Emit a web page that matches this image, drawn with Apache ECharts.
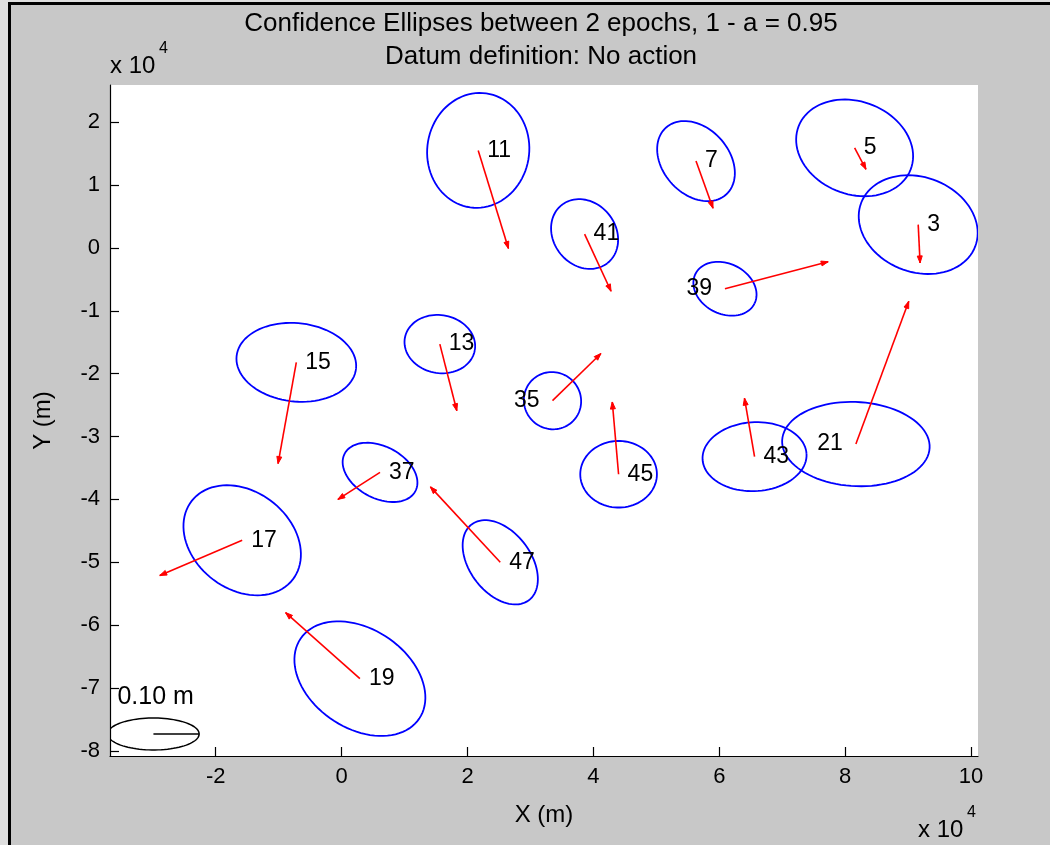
<!DOCTYPE html>
<html>
<head>
<meta charset="utf-8">
<script src="https://cdn.jsdelivr.net/npm/echarts@6/dist/echarts.min.js"></script>
<style>
  html, body { margin: 0; padding: 0; background: #c8c8c8; }
  #chart { width: 1050px; height: 845px; }
</style>
</head>
<body>
<div id="chart"></div>
<script>
// station numbers, positions (x 10^4 m), displacement vectors (plot units)
const ids = ['3', '5', '7', '11', '13', '15', '17', '19', '21', '35', '37', '39', '41', '43', '45', '47'];
const ptX = [9.16, 8.15, 5.63, 2.17, 1.56, -0.72, -1.58, 0.29, 8.17, 3.35, 0.61, 6.09, 3.86, 6.56, 4.40, 2.52];
const ptY = [0.37, 1.59, 1.38, 1.55, -1.53, -1.82, -4.65, -6.85, -3.12, -2.43, -3.57, -0.65, 0.22, -3.32, -3.60, -5.00];
const dispX = [0.03, 0.18, 0.27, 0.48, 0.27, -0.29, -1.31, -1.18, 0.84, 0.77, -0.67, 1.64, 0.42, -0.16, -0.10, -1.11];
const dispY = [-0.61, -0.34, -0.75, -1.56, -1.06, -1.61, -0.56, 1.05, 2.27, 0.75, -0.43, 0.43, -0.91, 0.93, 1.15, 1.20];
// confidence ellipses: semi axes and orientation (deg)
const semiMajor = [0.97, 0.954, 0.715, 0.915, 0.564, 0.954, 1.017, 1.137, 1.173, 0.46, 0.636, 0.525, 0.588, 0.827, 0.609, 0.755];
const semiMinor = [0.754, 0.738, 0.525, 0.81, 0.461, 0.623, 0.776, 0.787, 0.669, 0.45, 0.413, 0.40, 0.496, 0.548, 0.529, 0.486];
const azimuth = [-21, -21, -48, 82, -10, -6, -38, -34, -3, -45, -28, -27, -52, 3, 0, -53];
// scale ellipse (0.10 m)
const scaleEllipse = [-2.99, -7.73, 0.726, 0.254, 0];
const scaleText = '0.10 m';
// axes
const xTicks = [-2, 0, 2, 4, 6, 8, 10];
const yTicks = [-8, -7, -6, -5, -4, -3, -2, -1, 0, 1, 2];
const xRange = [-3.68, 10.11];
const yRange = [-8.08, 2.59];

const leftLabels = ['21', '35', '39'];
const FONT = '"Liberation Sans", Arial, sans-serif';

function ellipsePoints(api, cx, cy, a, b, ang) {
  const th = ang * Math.PI / 180;
  const pts = [];
  for (let k = 0; k <= 90; k++) {
    const t = k / 90 * 2 * Math.PI;
    const ex = cx + a * Math.cos(th) * Math.cos(t) - b * Math.sin(th) * Math.sin(t);
    const ey = cy + a * Math.sin(th) * Math.cos(t) + b * Math.cos(th) * Math.sin(t);
    pts.push(api.coord([ex, ey]));
  }
  return pts;
}

function arrowHead(p0, p1) {
  const vx = p1[0] - p0[0], vy = p1[1] - p0[1];
  const len = Math.sqrt(vx * vx + vy * vy) || 1;
  const ux = vx / len, uy = vy / len;
  const bx = p1[0] - ux * 7, by = p1[1] - uy * 7;
  return [p1, [bx - uy * 2.5, by + ux * 2.5], [bx + uy * 2.5, by - ux * 2.5]];
}

function renderStation(params, api) {
  const i = params.dataIndex;
  const cx = api.value(0), cy = api.value(1);
  const p0 = api.coord([cx, cy]);
  const p1 = api.coord([cx + api.value(2), cy + api.value(3)]);
  const onLeft = leftLabels.indexOf(ids[i]) >= 0;
  return {
    type: 'group',
    children: [
      {
        type: 'polyline',
        shape: { points: ellipsePoints(api, cx, cy, api.value(4), api.value(5), api.value(6)) },
        style: { stroke: '#0000ff', lineWidth: 1.8, fill: null }
      },
      {
        type: 'line',
        shape: { x1: p0[0], y1: p0[1], x2: p1[0], y2: p1[1] },
        style: { stroke: '#ff0000', lineWidth: 1.6 }
      },
      {
        type: 'polygon',
        shape: { points: arrowHead(p0, p1) },
        style: { fill: '#ff0000', stroke: '#ff0000', lineWidth: 1 }
      },
      {
        type: 'text',
        x: onLeft ? p0[0] - 13 : p0[0] + 9,
        y: p0[1],
        style: {
          text: ids[i], fill: '#000', font: '23px ' + FONT,
          align: onLeft ? 'right' : 'left', verticalAlign: 'middle'
        }
      }
    ]
  };
}

// scale ellipse with its radius line and caption
function renderScale(params, api) {
  const cx = api.value(0), cy = api.value(1);
  const p0 = api.coord([cx, cy]);
  const p1 = api.coord([cx + api.value(2), cy]);
  return {
    type: 'group',
    children: [
      {
        type: 'polyline',
        shape: { points: ellipsePoints(api, cx, cy, api.value(2), api.value(3), api.value(4)) },
        style: { stroke: '#000', lineWidth: 1.5, fill: null }
      },
      {
        type: 'line',
        shape: { x1: p0[0], y1: p0[1], x2: p1[0], y2: p1[1] },
        style: { stroke: '#000', lineWidth: 1.5 }
      },
      {
        type: 'text', x: p0[0] - 36, y: p0[1] - 37,
        style: { text: scaleText, font: '25px ' + FONT, fill: '#000', align: 'left', verticalAlign: 'middle' }
      }
    ]
  };
}

const chart = echarts.init(document.getElementById('chart'));

const option = {
  backgroundColor: '#c8c8c8',
  animation: false,
  graphic: [
    // window frame: light strip outside, black border on left and top
    { type: 'rect', shape: { x: 0, y: 0, width: 8, height: 845 }, style: { fill: '#dedede' } },
    { type: 'rect', shape: { x: 0, y: 0, width: 1050, height: 2 }, style: { fill: '#dedede' } },
    { type: 'rect', shape: { x: 8, y: 2, width: 3, height: 843 }, style: { fill: '#000' } },
    { type: 'rect', shape: { x: 8, y: 2, width: 1042, height: 3 }, style: { fill: '#000' } },
    { type: 'text', x: 541, y: 24, style: { text: 'Confidence Ellipses between 2 epochs, 1 - a = 0.95', font: '26px ' + FONT, fill: '#000', align: 'center', verticalAlign: 'middle' } },
    { type: 'text', x: 541, y: 57, style: { text: 'Datum definition: No action', font: '26px ' + FONT, fill: '#000', align: 'center', verticalAlign: 'middle' } },
    { type: 'text', x: 110, y: 66, style: { text: 'x 10', font: '24px ' + FONT, fill: '#000', align: 'left', verticalAlign: 'middle' } },
    { type: 'text', x: 159, y: 49, style: { text: '4', font: '16px ' + FONT, fill: '#000', align: 'left', verticalAlign: 'middle' } },
    { type: 'text', x: 918, y: 830, style: { text: 'x 10', font: '24px ' + FONT, fill: '#000', align: 'left', verticalAlign: 'middle' } },
    { type: 'text', x: 967, y: 813, style: { text: '4', font: '16px ' + FONT, fill: '#000', align: 'left', verticalAlign: 'middle' } }
  ],
  grid: {
    left: 110, top: 85, right: 72, bottom: 89,
    show: true, backgroundColor: '#ffffff', borderWidth: 0
  },
  xAxis: {
    type: 'value', min: xRange[0], max: xRange[1],
    name: 'X (m)', nameLocation: 'middle', nameGap: 47,
    nameTextStyle: { color: '#000', fontSize: 24, fontFamily: FONT },
    axisLine: { show: true, onZero: false, lineStyle: { color: '#000', width: 1.2 } },
    axisTick: { show: true, inside: true, length: 9, customValues: xTicks, lineStyle: { color: '#000', width: 1.2 } },
    axisLabel: { customValues: xTicks, color: '#000', fontSize: 22, fontFamily: FONT, margin: 10 },
    splitLine: { show: false }
  },
  yAxis: {
    type: 'value', min: yRange[0], max: yRange[1],
    name: 'Y (m)', nameLocation: 'middle', nameGap: 55,
    nameTextStyle: { color: '#000', fontSize: 24, fontFamily: FONT },
    axisLine: { show: true, onZero: false, lineStyle: { color: '#000', width: 1.2 } },
    axisTick: { show: true, inside: true, length: 9, customValues: yTicks, lineStyle: { color: '#000', width: 1.2 } },
    axisLabel: { customValues: yTicks, color: '#000', fontSize: 22, fontFamily: FONT, margin: 10 },
    splitLine: { show: false }
  },
  series: [
    {
      type: 'custom',
      clip: true,
      renderItem: renderStation,
      encode: { x: 0, y: 1 },
      data: ids.map((id, i) => [ptX[i], ptY[i], dispX[i], dispY[i], semiMajor[i], semiMinor[i], azimuth[i]])
    },
    {
      type: 'custom',
      clip: true,
      renderItem: renderScale,
      encode: { x: 0, y: 1 },
      data: [scaleEllipse]
    }
  ]
};

chart.setOption(option);
</script>
</body>
</html>
